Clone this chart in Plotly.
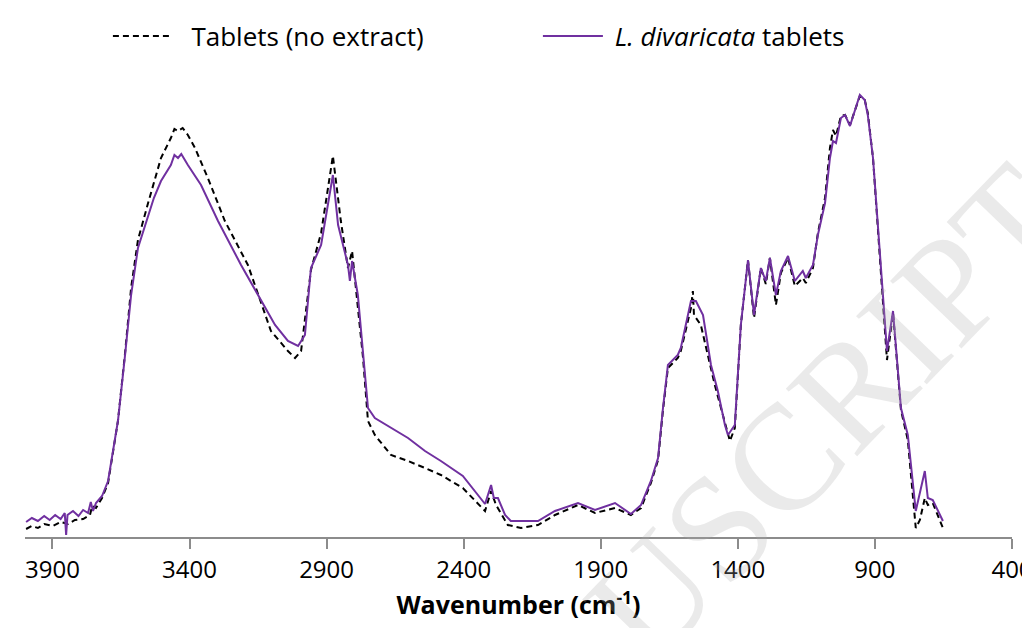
import plotly.graph_objects as go

# Wavenumber (cm-1) and absorbance (a.u.)
wn_tablets = [3996, 3975, 3953, 3930, 3898, 3870, 3843, 3818, 3788, 3763, 3755, 3741, 3719, 3697,
              3661, 3635, 3613, 3588, 3551, 3504, 3468, 3455, 3442, 3425, 3406, 3380, 3333, 3271,
              3187, 3103, 3041, 3015, 2993, 2957, 2920, 2877, 2848, 2822, 2807, 2793, 2767, 2749,
              2724, 2665, 2603, 2541, 2483, 2403, 2322, 2300, 2282, 2239, 2191, 2129, 2067, 1983,
              1921, 1848, 1790, 1753, 1717, 1691, 1673, 1655, 1619, 1608, 1571, 1564, 1560, 1535,
              1484, 1429, 1411, 1389, 1363, 1341, 1316, 1298, 1283, 1261, 1243, 1217, 1192, 1163,
              1152, 1126, 1108, 1082, 1064, 1053, 1042, 1024, 1009, 991, 973, 955, 937, 926, 907,
              889, 871, 856, 834, 805, 780, 751, 736, 718, 707, 689, 652]
abs_tablets = [0.08, 0.11, 0.09, 0.13, 0.11, 0.15, 0.13, 0.17, 0.18, 0.22, 0.31, 0.29, 0.39, 0.54,
               1.16, 1.84, 2.49, 2.97, 3.34, 3.79, 3.99, 4.08, 4.06, 4.09, 4.02, 3.89, 3.59, 3.16,
               2.72, 2.06, 1.86, 1.79, 1.86, 2.67, 3.04, 3.81, 3.16, 2.69, 2.86, 2.49, 1.79, 1.16,
               1.02, 0.82, 0.76, 0.69, 0.62, 0.49, 0.26, 0.46, 0.32, 0.12, 0.09, 0.12, 0.22, 0.32,
               0.24, 0.29, 0.22, 0.29, 0.54, 0.77, 1.27, 1.69, 1.79, 1.86, 2.29, 2.46, 2.22, 2.12,
               1.52, 0.96, 1.09, 2.12, 2.77, 2.19, 2.69, 2.53, 2.79, 2.32, 2.64, 2.79, 2.51, 2.59,
               2.54, 2.69, 3.04, 3.39, 3.89, 4.07, 4.01, 4.21, 4.22, 4.12, 4.26, 4.41, 4.37, 4.24, 3.79,
               3.12, 2.36, 1.77, 2.24, 1.27, 0.97, 0.09, 0.17, 0.39, 0.32, 0.34, 0.09]

wn_ld = [3996, 3975, 3953, 3930, 3910, 3890, 3870, 3855, 3850, 3845, 3825, 3805, 3788, 3770, 3760,
         3752, 3741, 3719, 3697, 3661, 3635, 3613, 3588, 3551, 3530, 3504, 3468, 3455, 3442, 3430,
         3406, 3358, 3296, 3212, 3139, 3088, 3041, 3004, 2979, 2957, 2920, 2877, 2858, 2822, 2815,
         2807, 2786, 2767, 2749, 2724, 2665, 2603, 2541, 2483, 2403, 2322, 2300, 2290, 2275, 2249,
         2228, 2129, 2067, 1983, 1921, 1848, 1790, 1753, 1717, 1691, 1673, 1655, 1619, 1608, 1571,
         1553, 1527, 1498, 1473, 1447, 1436, 1411, 1389, 1363, 1341, 1316, 1298, 1283, 1261, 1243,
         1217, 1192, 1163, 1152, 1126, 1108, 1082, 1064, 1053, 1042, 1024, 1009, 991, 973, 955, 937,
         926, 907, 889, 871, 856, 834, 805, 780, 751, 718, 707, 689, 652]
abs_ld = [0.15, 0.19, 0.16, 0.21, 0.17, 0.22, 0.18, 0.24, 0.02, 0.22, 0.26, 0.21, 0.27, 0.24, 0.35,
          0.26, 0.34, 0.41, 0.56, 1.16, 1.82, 2.42, 2.89, 3.22, 3.39, 3.56, 3.72, 3.82, 3.79, 3.83,
          3.72, 3.52, 3.16, 2.72, 2.36, 2.12, 1.96, 1.91, 2.02, 2.69, 2.92, 3.62, 3.12, 2.72, 2.56,
          2.76, 2.42, 1.82, 1.29, 1.19, 1.09, 0.99, 0.86, 0.76, 0.61, 0.33, 0.52, 0.39, 0.39, 0.22,
          0.16, 0.16, 0.26, 0.34, 0.27, 0.34, 0.23, 0.32, 0.56, 0.79, 1.29, 1.72, 1.82, 1.89, 2.36,
          2.36, 2.22, 1.72, 1.46, 1.12, 1.02, 1.12, 2.12, 2.77, 2.22, 2.69, 2.56, 2.79, 2.42, 2.66,
          2.81, 2.56, 2.66, 2.59, 2.72, 3.02, 3.34, 3.79, 3.96, 3.94, 4.19, 4.22, 4.11, 4.26, 4.42, 4.37,
          4.22, 3.79, 3.12, 2.39, 1.86, 2.26, 1.29, 1.02, 0.26, 0.66, 0.39, 0.37, 0.16]

tick_vals = [3900, 3400, 2900, 2400, 1900, 1400, 900, 400]
tick_text = ["3900", "3400", "2900", "2400", "1900", "1400", "900", "400"]

FONT = "Open Sans"

fig = go.Figure()
fig.add_trace(go.Scatter(
    x=wn_tablets, y=abs_tablets, mode="lines", name="&nbsp;&nbsp;Tablets (no extract)",
    line=dict(color="#000000", width=2, dash="6px,4px"),
))
fig.add_trace(go.Scatter(
    x=wn_ld, y=abs_ld, mode="lines", name="&nbsp;<i>L. divaricata</i> tablets",
    line=dict(color="#7030A0", width=2),
))

fig.update_layout(
    width=1030, height=628,
    margin=dict(l=17, r=26, t=60, b=99, autoexpand=False),
    paper_bgcolor="white", plot_bgcolor="white",
    font=dict(family=FONT, color="#000000"),
    showlegend=True,
    legend=dict(
        orientation="h", x=0.084, y=1.068, xanchor="left", yanchor="middle",
        font=dict(family=FONT, size=26, color="#000000"),
        entrywidth=355, entrywidthmode="pixels",
        bgcolor="rgba(0,0,0,0)", itemwidth=60,
    ),
    xaxis=dict(
        range=[4000, 400], autorange=False,
        tickvals=tick_vals, ticktext=tick_text,
        showgrid=False, zeroline=False,
        showline=True, linecolor="#8c8c8c", linewidth=1.5,
        ticks="outside", ticklen=10, tickcolor="#8c8c8c", tickwidth=1.5,
        tickfont=dict(family=FONT, size=24, color="#000000"),
        title=dict(text="<b>Wavenumber (cm<sup>-1</sup>)</b>",
                   font=dict(family=FONT, size=25, color="#000000"), standoff=8),
    ),
    yaxis=dict(
        range=[0, 4.69], autorange=False, visible=False,
        showgrid=False, zeroline=False,
    ),
    annotations=[dict(
        text="USCRIPT", xref="paper", yref="paper", x=0.8136, y=0.2644,
        xanchor="center", yanchor="middle", textangle=-46, showarrow=False,
        font=dict(family="Liberation Serif", size=150, color="rgba(170,170,170,0.25)"),
    )],
)

fig.write_html("out.html")
